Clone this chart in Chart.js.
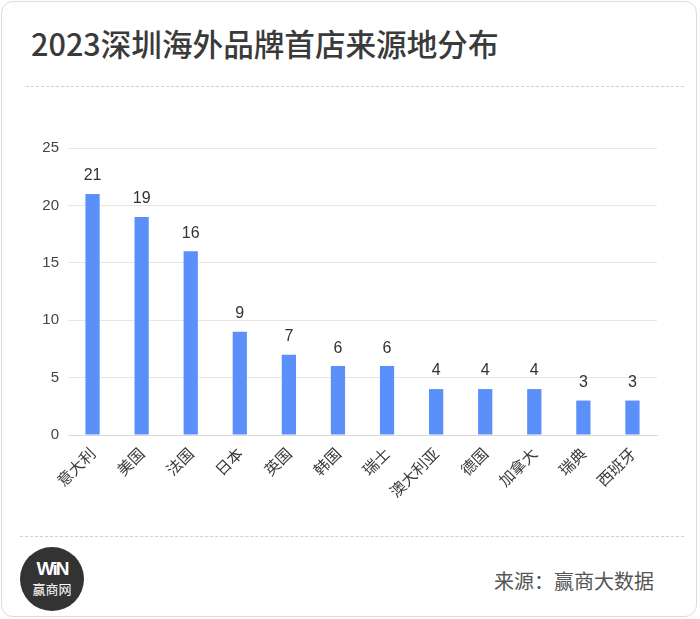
<!DOCTYPE html>
<html>
<head>
<meta charset="utf-8">
<script src="https://cdn.jsdelivr.net/npm/chart.js@4/dist/chart.umd.min.js"></script>
<style>
  body { margin: 0; background: #fff; }
  #card {
    position: absolute; left: 1px; top: 1px; width: 694px; height: 614px;
    border: 1px solid #dcdcdc; border-radius: 12px; background: #fff;
    overflow: hidden;
  }
  #title {
    position: absolute; left: 29px; top: 19px; margin: 0;
    font: 500 30.6px "Noto Sans CJK SC", sans-serif; color: #3a3a3a; white-space: nowrap;
  }
  .dash { position: absolute; border-top: 1px dashed #d0d0d0; height: 0; }
  #chartBox { position: absolute; left: -1px; top: 109px; width: 700px; height: 420px; }
  #logo {
    position: absolute; left: 18px; top: 545px; width: 64px; height: 64px;
    border-radius: 50%; background: #333; color: #fff; text-align: center;
    font-family: "Liberation Sans", "Noto Sans CJK SC", sans-serif;
  }
  #logo .w { font: bold 19px "Liberation Sans", sans-serif; margin-top: 12px; letter-spacing: -2px; line-height: 20px; }
  #logo .c { font: 13px "Noto Sans CJK SC", sans-serif; line-height: 16px; margin-top: 2px; }
  #source {
    position: absolute; right: 42px; top: 564px;
    font: 20px "Noto Sans CJK SC", sans-serif; color: #555; white-space: nowrap;
  }
</style>
</head>
<body>
<div id="card">
  <h1 id="title">2023深圳海外品牌首店来源地分布</h1>
  <div class="dash" style="left:24px; width:658px; top:84px;"></div>
  <div id="chartBox"><canvas id="bar-chart"></canvas></div>
  <div class="dash" style="left:18px; width:664px; top:534px;"></div>
  <div id="logo"><div class="w">WiN</div><div class="c">赢商网</div></div>
  <div id="source">来源：赢商大数据</div>
</div>
<script>
const countries = ["意大利", "美国", "法国", "日本", "英国", "韩国", "瑞士", "澳大利亚", "德国", "加拿大", "瑞典", "西班牙"];
const storeCounts = [21, 19, 16, 9, 7, 6, 6, 4, 4, 4, 3, 3];
const yTicks = [0, 5, 10, 15, 20, 25];

// draws the number above each bar
const valueLabels = {
  id: "valueLabels",
  afterDatasetsDraw(chart) {
    const ctx = chart.ctx;
    const meta = chart.getDatasetMeta(0);
    ctx.save();
    ctx.font = '16px "Liberation Sans", Arial, sans-serif';
    ctx.fillStyle = "#333";
    ctx.textAlign = "center";
    ctx.textBaseline = "bottom";
    meta.data.forEach((bar, i) => {
      ctx.fillText(storeCounts[i], bar.x, bar.y - 10);
    });
    ctx.restore();
  }
};

const ctx = document.getElementById("bar-chart").getContext("2d");
new Chart(ctx, {
  type: "bar",
  data: {
    labels: countries,
    datasets: [{
      label: "首店数量",
      data: storeCounts,
      backgroundColor: "#5B8FF9",
      barPercentage: 0.29,
      categoryPercentage: 1
    }]
  },
  options: {
    responsive: true,
    maintainAspectRatio: false,
    animation: false,
    layout: { padding: { top: 37, right: 44, left: 0, bottom: 0 } },
    plugins: {
      legend: { display: false },
      tooltip: { enabled: false }
    },
    scales: {
      x: {
        grid: { display: false },
        border: { color: "#d9d9d9", width: 1 },
        ticks: {
          minRotation: 45, maxRotation: 45,
          color: "#3a3a3a",
          font: { size: 15.5, family: '"Noto Sans CJK SC", sans-serif' },
          padding: 1
        },
        afterFit(scale) { scale.height = 96; }
      },
      y: {
        min: 0, max: 25,
        afterBuildTicks(scale) { scale.ticks = yTicks.map(v => ({ value: v })); },
        grid: { color: "#e6e6e6", drawTicks: false },
        border: { display: false },
        ticks: {
          color: "#444",
          padding: 9,
          font: { size: 15, family: '"Liberation Sans", Arial, sans-serif' }
        },
        afterFit(scale) { scale.width = 67; }
      }
    }
  },
  plugins: [valueLabels]
});
</script>
</body>
</html>
